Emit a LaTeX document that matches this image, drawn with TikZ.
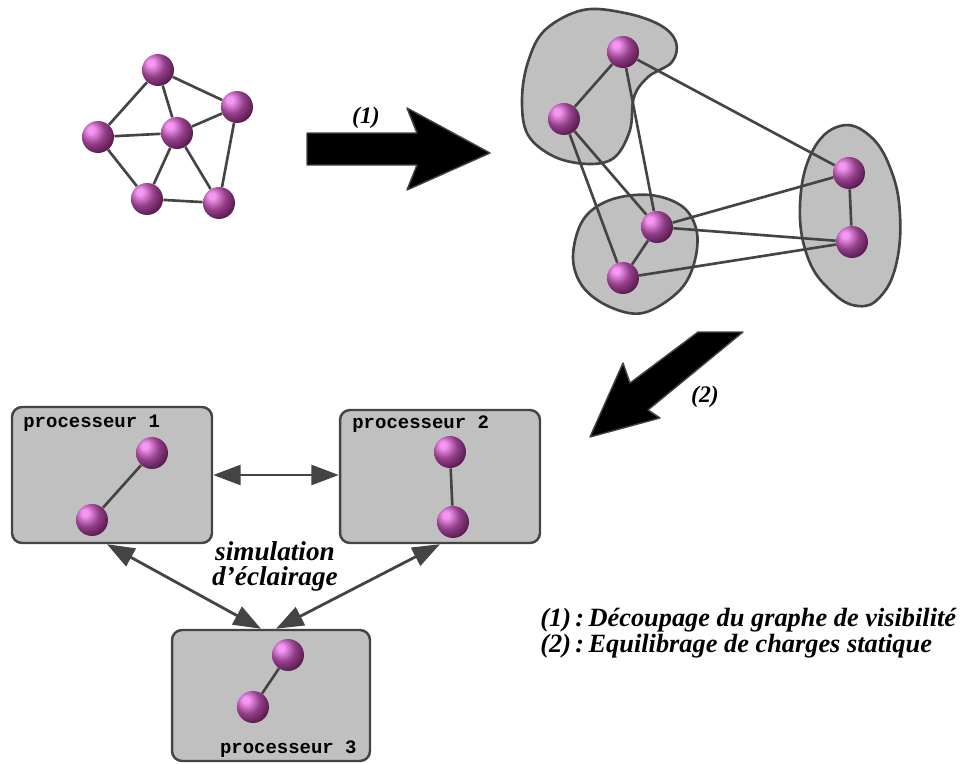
\documentclass[tikz,border=0pt]{standalone}
\usepackage{fontspec}
\setmainfont{Liberation Serif}
\setmonofont{Liberation Mono}
\usepackage{tikz}
\usetikzlibrary{arrows.meta,positioning}

\definecolor{edgegray}{HTML}{444444}
\definecolor{blobgray}{HTML}{C0C0C0}
\definecolor{sphHi}{HTML}{F596F3}
\definecolor{sphMid}{HTML}{94408A}
\definecolor{sphDark}{HTML}{4A1040}
\definecolor{sphRim}{HTML}{2A0622}
\pgfdeclareradialshading{sphereshade}{\pgfpoint{-12bp}{12bp}}{%
  color(0bp)=(sphHi); color(5bp)=(sphHi); color(19bp)=(sphMid);
  color(36bp)=(sphDark); color(52bp)=(sphRim); color(70bp)=(sphRim)}

\begin{document}
\begin{tikzpicture}[x=0.02cm, y=-0.02cm, >={Triangle[length=0.55cm,width=0.4cm]},
  sphere/.style={circle, minimum size=0.64cm, inner sep=0pt, shading=sphereshade},
  link/.style={draw=edgegray, line width=1.5pt},
  blob/.style={fill=blobgray, draw=edgegray, line width=1.5pt},
  bigarrow/.style={fill=black, draw=edgegray, line width=0.8pt, line join=round},
  procbox/.style={draw=edgegray, fill=blobgray, line width=1.4pt, rounded corners=0.2cm,
    inner sep=0pt, minimum width=4cm},
  proclabel/.style={font=\ttfamily\bfseries\fontsize{10.8}{12}\selectfont, inner sep=0pt},
  lbl/.style={font=\bfseries\itshape\fontsize{13.5}{12}\selectfont, inner sep=0pt},
  comm/.style={<->, draw=edgegray, line width=1.6pt}]
  \useasboundingbox (0,0) rectangle (975,764);

  % graph de depart
  \node[sphere] (s1) at (158,70) {};
  \node[sphere] (s2) at (237,107) {};
  \node[sphere] (s3) at (98,137) {};
  \node[sphere] (s4) at (177,133) {};
  \node[sphere] (s5) at (147,199) {};
  \node[sphere] (s6) at (219,203) {};
  \foreach \a/\b in {s1/s3,s1/s4,s1/s2,s3/s4,s3/s5,s4/s2,s4/s5,s4/s6,s2/s6,s5/s6}
    \draw[link] (\a) -- (\b);

  % fleche (1)
  \draw[bigarrow] (307,133) -- (417,133) -- (407,108) -- (490,153) -- (407,190)
    -- (417,165) -- (307,165) -- cycle;
  \node[lbl] (t1) at (366,118) {(1)};

  % graphe decoupe
  \draw[blob] plot[smooth cycle, tension=0.6] coordinates {(522,100) (528,62) (545,30)
    (583,10) (625,13) (660,25) (676,42) (672,62) (648,77) (634,97) (630,130) (615,157)
    (590,164) (555,157) (528,135)};
  \draw[blob] plot[smooth cycle, tension=0.6] coordinates {(573,257) (583,220) (610,200)
    (650,195) (683,207) (697,233) (693,267) (677,293) (643,313) (610,307) (583,287)};
  \draw[blob] plot[smooth cycle, tension=0.7] coordinates {(800,205) (812,152) (840,126)
    (870,136) (891,170) (900,215) (896,265) (880,297) (858,306) (832,292) (808,258)};
  \node[sphere] (p1) at (623,52) {};
  \node[sphere] (p2) at (564,119) {};
  \node[sphere] (p3) at (657,227) {};
  \node[sphere] (p4) at (623,278) {};
  \node[sphere] (p5) at (849,173) {};
  \node[sphere] (p6) at (852,242) {};
  \foreach \a/\b in {p1/p2,p1/p3,p1/p5,p2/p3,p2/p4,p3/p4,p3/p5,p3/p6,p4/p6,p5/p6}
    \draw[link] (\a) -- (\b);

  % fleche (2)
  \draw[bigarrow] (698,332) -- (743,332) -- (648,410) -- (660,418) -- (590,437)
    -- (623,363) -- (630,383) -- cycle;
  \node[lbl] (t2) at (705,397) {(2)};

  % processeurs
  \node[procbox, minimum height=2.72cm] (b1) at (112,475) {};
  \node[procbox, minimum height=2.66cm] (b2) at (440,476.5) {};
  \node[procbox, minimum width=3.96cm, minimum height=2.62cm] (b3) at (271,695.5) {};
  \node[proclabel, anchor=base west] (l1) at (23,427) {processeur 1};
  \node[proclabel, anchor=base west] (l2) at (352,428) {processeur 2};
  \node[proclabel, anchor=base east] (l3) at (357,753) {processeur 3};

  \node[sphere] (q1) at (152,453) {};
  \node[sphere] (q2) at (92,520) {};
  \node[sphere] (q3) at (450,452) {};
  \node[sphere] (q4) at (453,522) {};
  \node[sphere] (q5) at (288,655) {};
  \node[sphere] (q6) at (253,707) {};
  \draw[link] (q1) -- (q2);
  \draw[link] (q3) -- (q4);
  \draw[link] (q5) -- (q6);

  \draw[comm] (b1.east) -- (b1.east -| b2.west);
  \draw[comm] ([xshift=-0.1cm]b1.south) -- ([xshift=-0.2cm]b3.north);
  \draw[comm] (b2.south) -- ([xshift=0.1cm]b3.north);
  \node[lbl, align=center, font=\bfseries\itshape\fontsize{15.5}{14.2}\selectfont]
    (sim) at (275,566) {simulation\\d'éclairage};

  % legende
  \node[lbl, anchor=west, align=left, font=\bfseries\itshape\fontsize{15}{12.2}\selectfont]
    (leg) at (540,633)
    {(1)\thinspace:\thinspace Découpage du graphe de visibilité\\(2)\thinspace:\thinspace Equilibrage de charges statique};
\end{tikzpicture}
\end{document}
